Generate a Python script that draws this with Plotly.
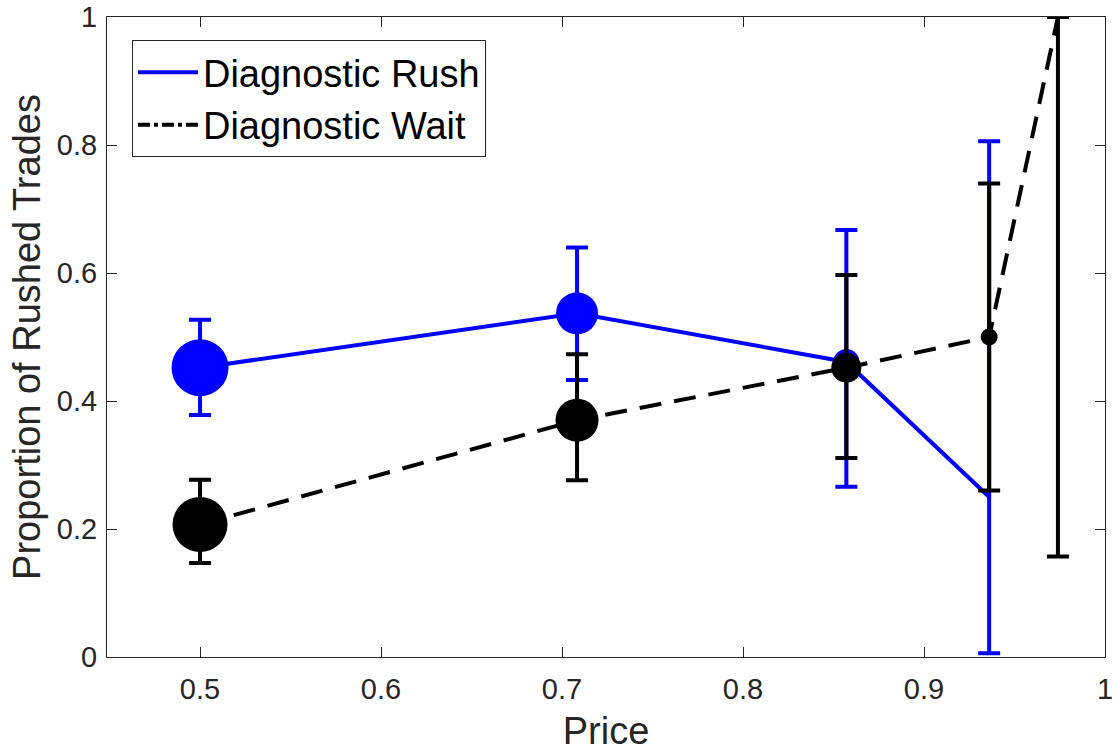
import plotly.graph_objects as go

# Data
rush_x = [0.5, 0.7083, 0.8571, 0.936]
rush_y = [0.452, 0.537, 0.461, 0.25]
rush_hi = [0.527, 0.640, 0.667, 0.806]
rush_lo = [0.378, 0.433, 0.266, 0.006]
rush_size = [57, 42, 26, 0]

wait_x = [0.5, 0.7083, 0.8571, 0.936, 0.974]
wait_y = [0.207, 0.370, 0.452, 0.5, 1.0]
wait_hi = [0.277, 0.473, 0.597, 0.740, 1.0]
wait_lo = [0.147, 0.276, 0.311, 0.260, 0.157]
wait_size = [55, 43, 30, 17, 0]

x_ticks = [0.5, 0.6, 0.7, 0.8, 0.9, 1.0]
x_ticklabels = ["0.5", "0.6", "0.7", "0.8", "0.9", "1"]
y_ticks = [0, 0.2, 0.4, 0.6, 0.8, 1.0]
y_ticklabels = ["0", "0.2", "0.4", "0.6", "0.8", "1"]

BLUE = "#0000ff"
BLACK = "#000000"
AX = "#262626"
FONT = "Liberation Sans, Arial"
DASH = "22px,13px"

fig = go.Figure()

fig.add_trace(go.Scatter(
    x=rush_x, y=rush_y, mode="lines+markers", name="Diagnostic Rush", showlegend=False,
    line=dict(color=BLUE, width=4),
    marker=dict(color=BLUE, size=rush_size, opacity=1, line=dict(width=0)),
    error_y=dict(type="data", symmetric=False,
                 array=[h - y for h, y in zip(rush_hi, rush_y)],
                 arrayminus=[y - l for l, y in zip(rush_lo, rush_y)],
                 color=BLUE, thickness=4, width=11),
))
fig.add_trace(go.Scatter(
    x=wait_x, y=wait_y, mode="lines+markers", name="Diagnostic Wait", showlegend=False,
    line=dict(color=BLACK, width=4, dash=DASH),
    marker=dict(color=BLACK, size=wait_size, opacity=1, line=dict(width=0)),
    error_y=dict(type="data", symmetric=False,
                 array=[h - y for h, y in zip(wait_hi, wait_y)],
                 arrayminus=[y - l for l, y in zip(wait_lo, wait_y)],
                 color=BLACK, thickness=4, width=11),
))
# legend-only entries (line only, as in the reference)
fig.add_trace(go.Scatter(x=[None], y=[None], mode="lines", name="Diagnostic Rush",
                         line=dict(color=BLUE, width=4)))
fig.add_trace(go.Scatter(x=[None], y=[None], mode="lines", name="Diagnostic Wait",
                         line=dict(color=BLACK, width=4, dash="dashdot")))

axis_common = dict(
    showline=True, linecolor=AX, linewidth=1, mirror="ticks",
    ticks="inside", ticklen=10, tickcolor=AX, tickwidth=1,
    showgrid=False, zeroline=False, automargin=False,
    tickfont=dict(family=FONT, size=29, color=AX),
)

fig.update_layout(
    width=1117, height=752,
    margin=dict(l=107, r=12, t=17, b=95),
    paper_bgcolor="white", plot_bgcolor="white",
    xaxis=dict(range=[0.4486, 1.0], tickvals=x_ticks, ticktext=x_ticklabels,
               ticklabelstandoff=6,
               title=dict(text="Price", font=dict(family=FONT, size=38, color=AX),
                          standoff=13),
               **axis_common),
    yaxis=dict(range=[0, 1.0], tickvals=y_ticks, ticktext=y_ticklabels,
               ticklabelstandoff=3,
               title=dict(text="Proportion of Rushed Trades",
                          font=dict(family=FONT, size=38, color=AX),
                          standoff=4),
               **axis_common),
    legend=dict(x=0.025, y=0.964, xanchor="left", yanchor="top",
                bgcolor="white", bordercolor=AX, borderwidth=1,
                font=dict(family=FONT, size=38, color="black"),
                itemwidth=60, tracegroupgap=0),
    showlegend=True,
)

fig.write_html("out.html")
